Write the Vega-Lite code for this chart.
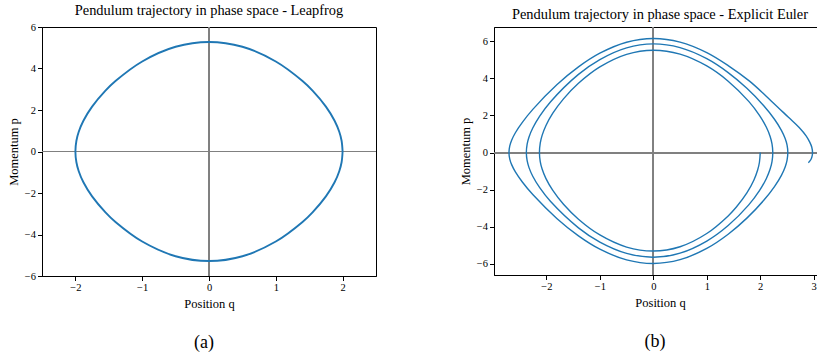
{
  "$schema": "https://vega.github.io/schema/vega-lite/v6.json",
  "padding": {"left": 6, "top": 2, "right": -9, "bottom": 0},
  "background": "white",
  "config": {
    "font": "Liberation Serif",
    "view": {"stroke": "#000", "strokeWidth": 1},
    "axis": {
      "domainColor": "#000", "tickColor": "#000", "labelColor": "#000", "titleColor": "#000",
      "labelFont": "Liberation Serif", "titleFont": "Liberation Serif",
      "labelFontSize": 10.5, "titleFontSize": 12.5, "titleFontWeight": "normal",
      "tickSize": 4.5, "labelPadding": 2, "titlePadding": 4, "grid": false, "format": "d"
    },
    "title": {"font": "Liberation Serif", "fontSize": 14.4, "fontWeight": "normal", "color": "#000", "offset": 4}
  },
  "datasets": {
    "leapfrog": [
      {"t": 0, "q": 2.0, "p": 0}, {"t": 1, "q": 1.985, "p": -0.519}, {"t": 2, "q": 1.95, "p": -0.951},
      {"t": 3, "q": 1.88, "p": -1.484}, {"t": 4, "q": 1.75, "p": -2.164}, {"t": 5, "q": 1.55, "p": -2.933},
      {"t": 6, "q": 1.4, "p": -3.397}, {"t": 7, "q": 1.0, "p": -4.339}, {"t": 8, "q": 0.5, "p": -5.047},
      {"t": 9, "q": 0, "p": -5.28}, {"t": 10, "q": -0.5, "p": -5.047}, {"t": 11, "q": -1.0, "p": -4.339},
      {"t": 12, "q": -1.4, "p": -3.397}, {"t": 13, "q": -1.55, "p": -2.933}, {"t": 14, "q": -1.75, "p": -2.164},
      {"t": 15, "q": -1.88, "p": -1.484}, {"t": 16, "q": -1.95, "p": -0.951}, {"t": 17, "q": -1.985, "p": -0.519},
      {"t": 18, "q": -2.0, "p": 0}, {"t": 19, "q": -1.985, "p": 0.519}, {"t": 20, "q": -1.95, "p": 0.951},
      {"t": 21, "q": -1.88, "p": 1.484}, {"t": 22, "q": -1.75, "p": 2.164}, {"t": 23, "q": -1.55, "p": 2.933},
      {"t": 24, "q": -1.4, "p": 3.397}, {"t": 25, "q": -1.0, "p": 4.339}, {"t": 26, "q": -0.5, "p": 5.047},
      {"t": 27, "q": 0, "p": 5.28}, {"t": 28, "q": 0.5, "p": 5.047}, {"t": 29, "q": 1.0, "p": 4.339},
      {"t": 30, "q": 1.4, "p": 3.397}, {"t": 31, "q": 1.55, "p": 2.933}, {"t": 32, "q": 1.75, "p": 2.164},
      {"t": 33, "q": 1.88, "p": 1.484}, {"t": 34, "q": 1.95, "p": 0.951}, {"t": 35, "q": 1.985, "p": 0.519},
      {"t": 36, "q": 2.0, "p": 0}
    ],
    "euler": [
      {"t": 0, "q": 2.0, "p": 0}, {"t": 1, "q": 1.985, "p": -0.522}, {"t": 2, "q": 1.95, "p": -0.957},
      {"t": 3, "q": 1.88, "p": -1.492}, {"t": 4, "q": 1.75, "p": -2.177}, {"t": 5, "q": 1.55, "p": -2.95},
      {"t": 6, "q": 1.4, "p": -3.416}, {"t": 7, "q": 1.0, "p": -4.364}, {"t": 8, "q": 0.5, "p": -5.075},
      {"t": 9, "q": 0, "p": -5.31},
      {"t": 10, "q": -0.5, "p": -5.093}, {"t": 11, "q": -1.0, "p": -4.441}, {"t": 12, "q": -1.4, "p": -3.592},
      {"t": 13, "q": -1.68, "p": -2.787}, {"t": 14, "q": -1.88, "p": -2.042}, {"t": 15, "q": -2.01, "p": -1.393},
      {"t": 16, "q": -2.08, "p": -0.89}, {"t": 17, "q": -2.115, "p": -0.485}, {"t": 18, "q": -2.13, "p": 0},
      {"t": 19, "q": -2.115, "p": 0.505}, {"t": 20, "q": -2.08, "p": 0.926}, {"t": 21, "q": -2.01, "p": 1.448},
      {"t": 22, "q": -1.88, "p": 2.122}, {"t": 23, "q": -1.68, "p": 2.897}, {"t": 24, "q": -1.4, "p": 3.734},
      {"t": 25, "q": -1.0, "p": 4.617}, {"t": 26, "q": -0.5, "p": 5.295}, {"t": 27, "q": 0, "p": 5.52},
      {"t": 28, "q": 0.5, "p": 5.307}, {"t": 29, "q": 1.0, "p": 4.669}, {"t": 30, "q": 1.4, "p": 3.85},
      {"t": 31, "q": 1.785, "p": 2.759}, {"t": 32, "q": 1.985, "p": 2.008}, {"t": 33, "q": 2.115, "p": 1.364},
      {"t": 34, "q": 2.185, "p": 0.869}, {"t": 35, "q": 2.22, "p": 0.473}, {"t": 36, "q": 2.235, "p": 0},
      {"t": 37, "q": 2.22, "p": -0.483}, {"t": 38, "q": 2.185, "p": -0.888}, {"t": 39, "q": 2.115, "p": -1.394},
      {"t": 40, "q": 1.985, "p": -2.052}, {"t": 41, "q": 1.785, "p": -2.819}, {"t": 42, "q": 1.4, "p": -3.934},
      {"t": 43, "q": 1.0, "p": -4.771}, {"t": 44, "q": 0.5, "p": -5.422}, {"t": 45, "q": 0, "p": -5.64},
      {"t": 46, "q": -0.5, "p": -5.436}, {"t": 47, "q": -1.0, "p": -4.828}, {"t": 48, "q": -1.4, "p": -4.057},
      {"t": 49, "q": -1.925, "p": -2.628}, {"t": 50, "q": -2.125, "p": -1.894}, {"t": 51, "q": -2.255, "p": -1.277},
      {"t": 52, "q": -2.325, "p": -0.811}, {"t": 53, "q": -2.36, "p": -0.44}, {"t": 54, "q": -2.375, "p": 0},
      {"t": 55, "q": -2.36, "p": 0.458}, {"t": 56, "q": -2.325, "p": 0.843}, {"t": 57, "q": -2.255, "p": 1.327},
      {"t": 58, "q": -2.125, "p": 1.968}, {"t": 59, "q": -1.925, "p": 2.731}, {"t": 60, "q": -1.4, "p": 4.216},
      {"t": 61, "q": -1.0, "p": 5.016}, {"t": 62, "q": -0.5, "p": 5.648}, {"t": 63, "q": 0, "p": 5.86},
      {"t": 64, "q": 0.5, "p": 5.658}, {"t": 65, "q": 1.0, "p": 5.062}, {"t": 66, "q": 1.4, "p": 4.312},
      {"t": 67, "q": 1.75, "p": 3.463}, {"t": 68, "q": 2.066, "p": 2.523}, {"t": 69, "q": 2.266, "p": 1.796},
      {"t": 70, "q": 2.396, "p": 1.2}, {"t": 71, "q": 2.466, "p": 0.758}, {"t": 72, "q": 2.501, "p": 0.41},
      {"t": 73, "q": 2.516, "p": 0},
      {"t": 74, "q": 2.501, "p": -0.419}, {"t": 75, "q": 2.466, "p": -0.773}, {"t": 76, "q": 2.396, "p": -1.225},
      {"t": 77, "q": 2.266, "p": -1.833}, {"t": 78, "q": 2.066, "p": -2.574}, {"t": 79, "q": 1.75, "p": -3.534},
      {"t": 80, "q": 1.4, "p": -4.401}, {"t": 81, "q": 1.0, "p": -5.166}, {"t": 82, "q": 0.5, "p": -5.774},
      {"t": 83, "q": 0, "p": -5.98},
      {"t": 84, "q": -0.5, "p": -5.784}, {"t": 85, "q": -1.0, "p": -5.209}, {"t": 86, "q": -1.4, "p": -4.492},
      {"t": 87, "q": -1.8, "p": -3.565}, {"t": 88, "q": -2.25, "p": -2.277}, {"t": 89, "q": -2.45, "p": -1.585},
      {"t": 90, "q": -2.58, "p": -1.041}, {"t": 91, "q": -2.65, "p": -0.65}, {"t": 92, "q": -2.685, "p": -0.35},
      {"t": 93, "q": -2.7, "p": 0},
      {"t": 94, "q": -2.685, "p": 0.36}, {"t": 95, "q": -2.65, "p": 0.669}, {"t": 96, "q": -2.58, "p": 1.07},
      {"t": 97, "q": -2.45, "p": 1.63}, {"t": 98, "q": -2.25, "p": 2.341}, {"t": 99, "q": -1.8, "p": 3.667},
      {"t": 100, "q": -1.4, "p": 4.619}, {"t": 101, "q": -1.0, "p": 5.357}, {"t": 102, "q": -0.5, "p": 5.949},
      {"t": 103, "q": 0, "p": 6.15},
      {"t": 104, "q": 0.5, "p": 5.958}, {"t": 105, "q": 1.0, "p": 5.392}, {"t": 106, "q": 1.4, "p": 4.692},
      {"t": 107, "q": 1.8, "p": 3.85}, {"t": 108, "q": 2.2, "p": 2.8}, {"t": 109, "q": 2.528, "p": 1.9},
      {"t": 110, "q": 2.728, "p": 1.35}, {"t": 111, "q": 2.858, "p": 0.9}, {"t": 112, "q": 2.928, "p": 0.55},
      {"t": 113, "q": 2.963, "p": 0.3}, {"t": 114, "q": 2.978, "p": 0},
      {"t": 115, "q": 2.972, "p": -0.17}, {"t": 116, "q": 2.955, "p": -0.33}, {"t": 117, "q": 2.93, "p": -0.45},
      {"t": 118, "q": 2.9, "p": -0.55}
    ]
  },
  "spacing": 81,
  "hconcat": [
    {
      "spacing": 23,
      "vconcat": [
        {
          "title": "Pendulum trajectory in phase space - Leapfrog",
          "width": 334,
          "height": 249,
          "data": {"name": "leapfrog"},
          "layer": [
            {"mark": {"type": "rule", "color": "#808080", "strokeWidth": 1}, "encoding": {"x": {"datum": 0}}},
            {"mark": {"type": "rule", "color": "#808080", "strokeWidth": 1}, "encoding": {"y": {"datum": 0}}},
            {
              "mark": {"type": "line", "interpolate": "catmull-rom", "color": "#1f77b4", "strokeWidth": 1.9, "clip": true},
              "encoding": {
                "x": {"field": "q", "type": "quantitative", "scale": {"domain": [-2.5, 2.5], "nice": false, "zero": false},
                      "axis": {"title": "Position q", "values": [-2, -1, 0, 1, 2]}},
                "y": {"field": "p", "type": "quantitative", "scale": {"domain": [-6, 6], "nice": false, "zero": false},
                      "axis": {"title": "Momentum p", "values": [-6, -4, -2, 0, 2, 4, 6]}},
                "order": {"field": "t", "type": "quantitative"}
              }
            }
          ]
        },
        {
          "width": 334,
          "height": 20,
          "view": {"stroke": null},
          "data": {"values": [{"label": "(a)"}]},
          "mark": {"type": "text", "font": "Liberation Serif", "fontSize": 18, "baseline": "middle", "dx": -5, "color": "#000"},
          "encoding": {"text": {"field": "label"}}
        }
      ]
    },
    {
      "spacing": 23,
      "vconcat": [
        {
          "title": "Pendulum trajectory in phase space - Explicit Euler",
          "width": 332,
          "height": 248,
          "data": {"name": "euler"},
          "layer": [
            {"mark": {"type": "rule", "color": "#808080", "strokeWidth": 1}, "encoding": {"x": {"datum": 0}}},
            {"mark": {"type": "rule", "color": "#808080", "strokeWidth": 1}, "encoding": {"y": {"datum": 0}}},
            {
              "mark": {"type": "line", "interpolate": "catmull-rom", "color": "#1f77b4", "strokeWidth": 1.4, "clip": true},
              "encoding": {
                "x": {"field": "q", "type": "quantitative", "scale": {"domain": [-2.98, 3.23], "nice": false, "zero": false},
                      "axis": {"title": "Position q", "values": [-2, -1, 0, 1, 2, 3]}},
                "y": {"field": "p", "type": "quantitative", "scale": {"domain": [-6.6, 6.77], "nice": false, "zero": false},
                      "axis": {"title": "Momentum p", "values": [-6, -4, -2, 0, 2, 4, 6]}},
                "order": {"field": "t", "type": "quantitative"}
              }
            }
          ]
        },
        {
          "width": 332,
          "height": 20,
          "view": {"stroke": null},
          "data": {"values": [{"label": "(b)"}]},
          "mark": {"type": "text", "font": "Liberation Serif", "fontSize": 18, "baseline": "middle", "dx": -5, "color": "#000"},
          "encoding": {"text": {"field": "label"}}
        }
      ]
    }
  ]
}
